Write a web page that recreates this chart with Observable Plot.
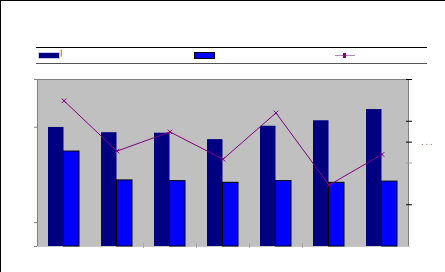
<!DOCTYPE html>
<html>
<head>
<meta charset="utf-8">
<script src="https://cdn.jsdelivr.net/npm/d3@7"></script>
<script src="https://cdn.jsdelivr.net/npm/@observablehq/plot@0.6"></script>
<style>
  html, body { margin: 0; padding: 0; background: #fff; }
  #wrap { position: relative; width: 445px; height: 272px; overflow: hidden; font-family: "DejaVu Sans", sans-serif; }
  #wrap svg { position: absolute; left: 0; top: 0; }
  .abs { position: absolute; }
</style>
</head>
<body>
<div id="wrap"></div>
<script>
// ---- data ----
const categories = ["1", "2", "3", "4", "5", "6", "7"];
const seriesA = [4.99, 4.77, 4.75, 4.48, 5.04, 5.27, 5.74];   // navy bars (left axis)
const seriesB = [3.98, 2.77, 2.74, 2.67, 2.74, 2.67, 2.72];   // blue bars (left axis)
const seriesC = [6.98, 4.57, 5.49, 4.18, 6.40, 2.94, 4.41];   // purple line (right axis)
const leftTicks = [0, 1, 5, 7];
const rightTicksDark = [2, 5, 6, 8];
const rightTicksLight = [4];
const boundaryCats = ["3", "4", "5", "6"];
const leftMax = 7, rightMax = 8;

const toLeft = v => v * leftMax / rightMax;
const barsA = categories.map((c, i) => ({c, v: seriesA[i]}));
const barsB = categories.map((c, i) => ({c, v: seriesB[i]}));
const line = categories.map((c, i) => ({c, v: toLeft(seriesC[i])}));

const W = 445, H = 272;
const mL = 37, mR = 37, mT = 79, mB = 26;
const band = (W - mL - mR) / categories.length;
const noText = () => "";

const chart = Plot.plot({
  width: W, height: H,
  marginLeft: mL, marginRight: mR, marginTop: mT, marginBottom: mB,
  x: {type: "band", domain: categories, padding: 0, axis: null, label: null},
  y: {domain: [0, leftMax], axis: null, label: null},
  marks: [
    Plot.frame({fill: "#c0c0c0", stroke: "#808080"}),
    Plot.ruleY([0], {stroke: "#c8c8c8", insetLeft: -3, insetRight: -2}),
    Plot.axisY(leftTicks, {anchor: "left", tickSize: 3, stroke: "#808080", tickFormat: noText, label: null}),
    Plot.axisY(rightTicksDark.map(toLeft), {anchor: "right", tickSize: 6, dx: -3, stroke: "#000", tickFormat: noText, label: null}),
    Plot.axisY(rightTicksLight.map(toLeft), {anchor: "right", tickSize: 6, dx: -3, stroke: "#a0a0a0", tickFormat: noText, label: null}),
    Plot.axisX(boundaryCats, {anchor: "bottom", tickSize: 5, dx: -band / 2, dy: -3, stroke: "#a8a8a8", tickFormat: noText, label: null}),
    Plot.barY(barsA, {x: "c", y: "v", fill: "#000080", insetLeft: 11, insetRight: band - 26.5}),
    Plot.barY(barsB, {x: "c", y: "v", fill: "#0000ff", stroke: "#000", strokeWidth: 1, insetLeft: 26.5, insetRight: 11}),
    Plot.lineY(line, {x: "c", y: "v", stroke: "#800080", strokeWidth: 1}),
    Plot.dot(line, {x: "c", y: "v", symbol: "times", r: 2.2, stroke: "#800080", strokeWidth: 1})
  ]
});

const wrap = document.getElementById("wrap");
wrap.appendChild(chart);

function box(style, text) {
  const d = document.createElement("div");
  d.className = "abs";
  Object.assign(d.style, style);
  if (text) d.textContent = text;
  wrap.appendChild(d);
  return d;
}
// outer frame (top and left)
box({left: "0px", top: "0px", width: "445px", height: "1px", background: "#000"});
box({left: "0px", top: "0px", width: "1px", height: "272px", background: "#000"});
// legend rules
box({left: "36px", top: "47px", width: "391px", height: "1px", background: "#000"});
box({left: "36px", top: "63px", width: "391px", height: "1px", background: "#555"});
// legend swatches
box({left: "38px", top: "52px", width: "20px", height: "5px", background: "#000080", border: "1px solid #c8c8f0"});
box({left: "60px", top: "48px", fontSize: "7px", lineHeight: "10px", color: "#000"}, "|");
box({left: "194px", top: "52px", width: "19px", height: "5px", background: "#0000ff", border: "1px solid #000"});
box({left: "335px", top: "55px", width: "20px", height: "1px", background: "#c080c0"});
box({left: "343px", top: "53px", width: "3px", height: "5px", background: "#800080"});
// truncated right-axis title
box({left: "421px", top: "138px", fontSize: "8px", lineHeight: "10px", color: "#505050", letterSpacing: "2px", WebkitFontSmoothing: "antialiased"}, "...");
</script>
</body>
</html>
